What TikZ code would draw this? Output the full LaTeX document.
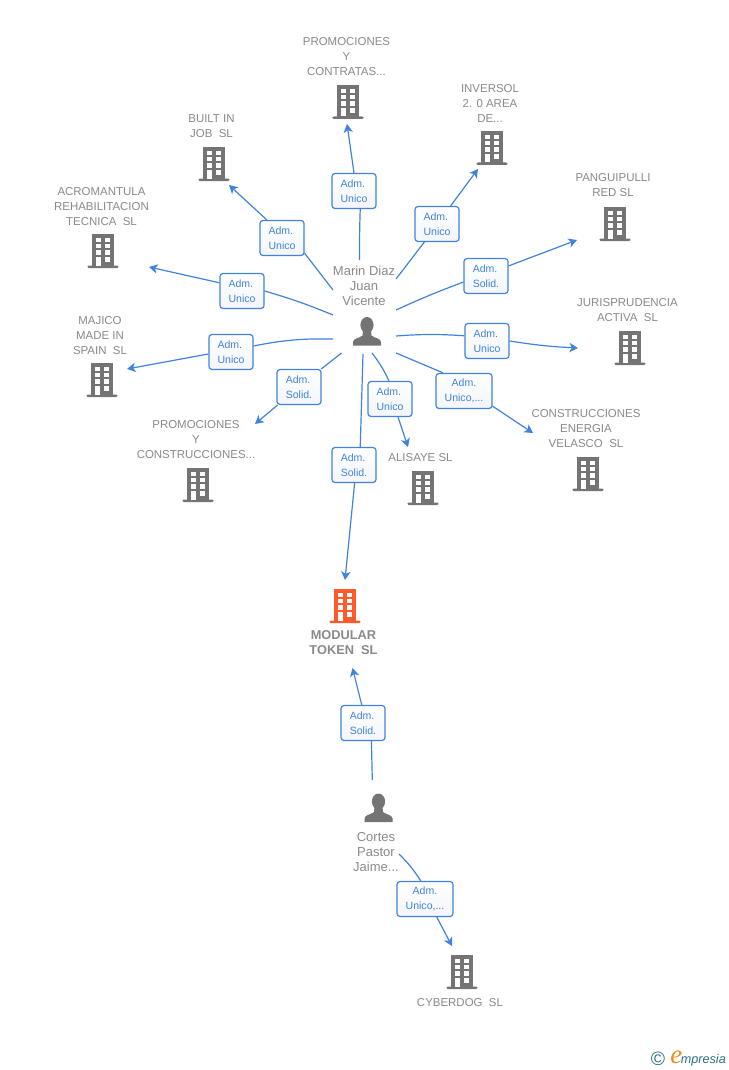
\documentclass[tikz,border=0pt]{standalone}
\usepackage{fontspec}
\setmainfont{Liberation Sans}
\newfontfamily\logoserif{Liberation Serif}
\usetikzlibrary{arrows.meta}
\definecolor{linkblue}{HTML}{3F83DE}
\definecolor{boxtext}{HTML}{3F83DE}
\definecolor{iconGrey}{HTML}{747474}
\definecolor{nameGrey}{HTML}{8A8A8A}
\definecolor{hero}{HTML}{FF5A2B}
\definecolor{teal}{HTML}{2F7088}
\definecolor{logoOrange}{HTML}{F08A1D}
\definecolor{boxbottom}{HTML}{F3F5F9}
\tikzset{
  x=0.75pt,y=-0.75pt,
  rolebox/.style={draw=linkblue,line width=0.9pt,top color=white,bottom color=boxbottom,rounded corners=2.2pt,minimum width=33pt,minimum height=26.2pt,inner sep=0pt,align=left,font=\fontsize{7.9pt}{11.25pt}\selectfont,text=boxtext},
  widebox/.style={rolebox,minimum width=42pt,align=center},
  conn/.style={draw=linkblue,line width=0.9pt},
  arrowconn/.style={conn,-{Stealth[length=6.4pt,width=7pt,inset=1.8pt]}},
  cname/.style={align=center,inner sep=0pt,text=nameGrey,font=\fontsize{8.6pt}{11.25pt}\selectfont},
  pname/.style={cname,font=\fontsize{9.75pt}{11.25pt}\selectfont},
  heroname/.style={cname,font=\bfseries\fontsize{9.6pt}{11.25pt}\selectfont},
  logomark/.style={inner sep=0pt,text=teal}
}
% building icon: #1 = node name, #2 = centre, #3 = colour
\newcommand{\bldg}[3]{%
  \node[inner sep=0pt,minimum width=24pt,minimum height=25.5pt] (#1) at (#2) {};
  \begin{scope}[shift={(#2)}]
    \fill[#3] (-11.3,-17) rectangle (11.3,15);
    \fill[#3,rounded corners=1pt] (-15.7,14.5) rectangle (15.7,17);
    \foreach \cx in {-7.4,1.9}{
      \foreach \cy/\ch in {-13.4/4.2,-7.0/4.2,-0.6/4.2}{
        \fill[white] (\cx,\cy) rectangle ++(5.5,\ch);
      }
    }
    \fill[white] (-7.4,6) rectangle ++(5.5,8.5);
    \fill[white] (1.9,6) rectangle ++(5.5,4.6);
  \end{scope}}
% person icon
\newcommand{\person}[2]{%
  \node[inner sep=0pt,minimum width=21pt,minimum height=21pt] (#1) at (#2) {};
  \begin{scope}[shift={(#2)}]
    \fill[iconGrey] (0,-8) ellipse (6.6 and 8);
    \fill[iconGrey] (-14,12.5) -- (-14,9) .. controls (-13.5,5) and (-8,5.5) .. (-4.5,2.5) -- (-4,-3) -- (4,-3) -- (4.5,2.5) .. controls (8,5.5) and (13.5,5) .. (14,9) -- (14,12.5) -- cycle;
  \end{scope}}
\begin{document}
\begin{tikzpicture}
\useasboundingbox (0,0) rectangle (728,1070);
\fill[white] (0,0) rectangle (728,1070);

% free ends of connectors
\coordinate (s1) at (359.5,260);  \coordinate (e1) at (347,124);
\coordinate (s2) at (333,290);  \coordinate (e2) at (229,185);
\coordinate (s3) at (333,315);  \coordinate (e3) at (149,267);
\coordinate (s4) at (333,339);  \coordinate (e4) at (127,369);
\coordinate (s5) at (341.5,353);  \coordinate (e5) at (255,424);
\coordinate (s6) at (363,354);  \coordinate (e6) at (345,580);
\coordinate (s7) at (372,353);  \coordinate (e7) at (408,447);
\coordinate (s8) at (396,353);  \coordinate (e8) at (533,433);
\coordinate (s9) at (396,336);  \coordinate (e9) at (578,348);
\coordinate (s10) at (396,310); \coordinate (e10) at (577,240);
\coordinate (s11) at (396,279); \coordinate (e11) at (478,169);
\coordinate (s12) at (372.3,780); \coordinate (e12) at (352.5,668);
\coordinate (s13) at (399,854); \coordinate (e13) at (452,946);

% role boxes
\node[rolebox] (r1) at (354,191) {Adm.\\Unico};
\node[rolebox] (r2) at (282,238) {Adm.\\Unico};
\node[rolebox] (r3) at (242,291) {Adm.\\Unico};
\node[rolebox] (r4) at (231,352) {Adm.\\Unico};
\node[rolebox] (r5) at (299,387) {Adm.\\Solid.};
\node[rolebox] (r6) at (354,465) {Adm.\\Solid.};
\node[rolebox] (r7) at (390,399) {Adm.\\Unico};
\node[widebox] (r8) at (464,391) {Adm.\\Unico,...};
\node[rolebox] (r9) at (487,341) {Adm.\\Unico};
\node[rolebox] (r10) at (486,276) {Adm.\\Solid.};
\node[rolebox] (r11) at (437,224) {Adm.\\Unico};
\node[rolebox] (r12) at (363,723) {Adm.\\Solid.};
\node[widebox] (r13) at (425,899) {Adm.\\Unico,...};

% connectors
\draw[conn] (s1) to[bend left=1] (r1.289);   \draw[arrowconn] (r1.north) to (e1);
\draw[conn] (s2) to (r2.326);                \draw[arrowconn] (r2.130) to (e2);
\draw[conn] (s3) to[bend right=3] (r3.east); \draw[arrowconn] (r3.160) to (e3);
\draw[conn] (s4) to[bend right=6] (r4.15);   \draw[arrowconn] (r4.185) to (e4);
\draw[conn] (s5) to (r5.39);                 \draw[arrowconn] (r5.220) to (e5);
\draw[conn] (s6) to (r6.71);                 \draw[arrowconn] (r6.272) to (e6);
\draw[conn] (s7) to[bend left=6] (r7.93);    \draw[arrowconn] (r7.294) to (e7);
\draw[conn] (s8) to (r8.139);                \draw[arrowconn] (r8.332) to (e8);
\draw[conn] (s9) to[bend left=4] (r9.167);   \draw[arrowconn] (r9.east) to[bend right=3] (e9);
\draw[conn] (s10) to[bend left=2] (r10.195); \draw[arrowconn] (r10.24) to (e10);
\draw[conn] (s11) to (r11.235);              \draw[arrowconn] (r11.53) to (e11);
\draw[conn] (s12) to (r12.295);              \draw[arrowconn] (r12.94) to (e12);
\draw[conn] (s13) to[bend left=6] (r13.103); \draw[arrowconn] (r13.303) to (e13);

% buildings
\bldg{b1}{348,102}{iconGrey}
\bldg{b2}{214,164}{iconGrey}
\bldg{b3}{103,251}{iconGrey}
\bldg{b4}{102,380}{iconGrey}
\bldg{b5}{198,485}{iconGrey}
\bldg{b6}{423,488}{iconGrey}
\bldg{b7}{588,474}{iconGrey}
\bldg{b8}{630,348}{iconGrey}
\bldg{b9}{615,224}{iconGrey}
\bldg{b10}{492,148}{iconGrey}
\bldg{b11}{462,972}{iconGrey}
\bldg{hq}{345,606}{hero}

% people
\person{p1}{367,333}
\person{p2}{378.5,809.5}

% names
\node[cname] (t1) at (346.5,57) {PROMOCIONES\\Y\\CONTRATAS...};
\node[cname] (t2) at (211.5,126.5) {BUILT IN\\JOB~~SL};
\node[cname] (t3) at (101.5,206.5) {ACROMANTULA\\REHABILITACION\\TECNICA~~SL};
\node[cname] (t4) at (100,336) {MAJICO\\MADE IN\\SPAIN~~SL};
\node[cname] (t5) at (196,440) {PROMOCIONES\\Y\\CONSTRUCCIONES...};
\node[cname] (t6) at (420.5,458) {ALISAYE SL};
\node[cname] (t7) at (586,429) {CONSTRUCCIONES\\ENERGIA\\VELASCO~~SL};
\node[cname] (t8) at (627.5,310.5) {JURISPRUDENCIA\\ACTIVA~~SL};
\node[cname] (t9) at (613,185.5) {PANGUIPULLI\\RED SL};
\node[cname] (t10) at (490,103) {INVERSOL\\2. 0 AREA\\DE...};
\node[cname] (t11) at (460,1003) {CYBERDOG~~SL};
\node[heroname] (hqt) at (343.5,642.5) {MODULAR\\TOKEN~~SL};
\node[pname] (pt1) at (364,285.7) {Marin Diaz\\Juan\\Vicente};
\node[pname] (pt2) at (376,851.7) {Cortes\\Pastor\\Jaime...};

% logo
\node[logomark,font=\fontsize{14.5pt}{14.5pt}\selectfont] (lc) at (658,1059) {©};
\node[logomark,anchor=base west,font=\itshape\fontsize{9.5pt}{10pt}\selectfont] (lg) at (670,1063) {{\color{logoOrange}\logoserif\itshape\fontsize{20pt}{20pt}\selectfont e}\kern-1pt mpresia};
\end{tikzpicture}
\end{document}
